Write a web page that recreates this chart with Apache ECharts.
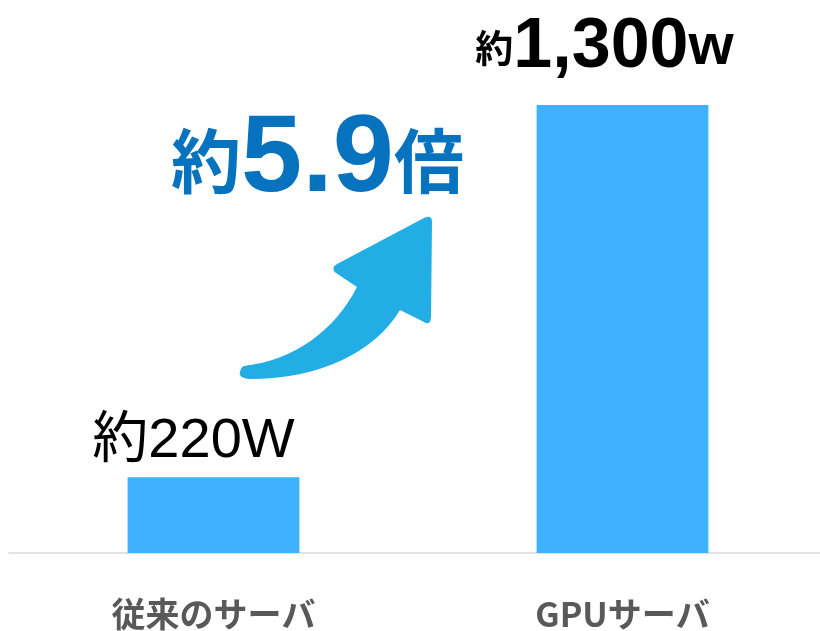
<!DOCTYPE html>
<html>
<head>
<meta charset="utf-8">
<script src="https://cdn.jsdelivr.net/npm/echarts@6/dist/echarts.min.js"></script>
<style>
  html, body { margin: 0; padding: 0; background: #fff; }
  #chart { width: 820px; height: 631px; }
</style>
</head>
<body>
<div id="chart"></div>
<script>
var categories = ['従来のサーバ', 'GPUサーバ'];
var watts = [220, 1300];
var ratioText = '5.9';

// curved up arrow (decoration only)
var arrowPath = 'M 244 366 C 295 360 335 330 357 287 L 336 273 Q 330 268 337 264 L 424 218 Q 432 214 432 222 L 431 318 Q 430 326 424 322 L 400 310 C 375 352 320 379 250 379 Q 238 378 240 372 Q 241 367 244 366 Z';
echarts.graphic.registerShape('upArrow', echarts.graphic.extendPath(arrowPath, {}));

var myChart = echarts.init(document.getElementById('chart'));
var options = {
    animation: false,
    grid: { left: 9, width: 818, top: 105, bottom: 78, outerBoundsMode: 'none' },
    xAxis: {
        type: 'category',
        data: categories,
        axisLine: { lineStyle: { color: '#d9d9d9', width: 1.5 } },
        axisTick: { show: false },
        axisLabel: {
            margin: 44,
            color: '#595959',
            fontSize: 34,
            fontWeight: 'bold',
            fontFamily: 'Noto Sans CJK JP'
        }
    },
    yAxis: {
        type: 'value',
        min: 0,
        max: 1300,
        show: false,
        splitLine: { show: false }
    },
    series: [
        {
            type: 'bar',
            barWidth: '42%',
            itemStyle: { color: '#3eb1ff' },
            data: [
                {
                    value: watts[0],
                    label: {
                        show: true,
                        position: 'top',
                        distance: 8,
                        offset: [-20, 0],
                        formatter: '約{c}W',
                        color: '#000',
                        fontSize: 56,
                        fontFamily: 'Liberation Sans, Noto Sans CJK JP'
                    }
                },
                {
                    value: watts[1],
                    label: {
                        show: true,
                        position: 'top',
                        distance: 22,
                        offset: [-18, 0],
                        formatter: function (p) {
                            return '{a|約}{b|' + p.value.toLocaleString('en-US') + '}{c|w}';
                        },
                        rich: {
                            a: { fontSize: 38, fontWeight: 'bold', color: '#000', fontFamily: 'Noto Sans CJK JP' },
                            b: { fontSize: 70, fontWeight: 'bold', color: '#000', fontFamily: 'Liberation Sans' },
                            c: { fontSize: 58, fontWeight: 'bold', color: '#000', fontFamily: 'Liberation Sans' }
                        }
                    }
                }
            ]
        }
    ],
    graphic: [
        {
            type: 'upArrow',
            style: { fill: '#22aee4' }
        },
        {
            type: 'text',
            left: 171,
            top: 106,
            style: {
                text: '{a|約}{b|' + ratioText + '}{a|倍}',
                rich: {
                    a: { fontSize: 70, fontWeight: 'bold', fill: '#0773be', fontFamily: 'Noto Sans CJK JP' },
                    b: { fontSize: 110, fontWeight: 'bold', fill: '#0773be', fontFamily: 'Liberation Sans' }
                }
            }
        }
    ]
};
myChart.setOption(options, true);
</script>
</body>
</html>
